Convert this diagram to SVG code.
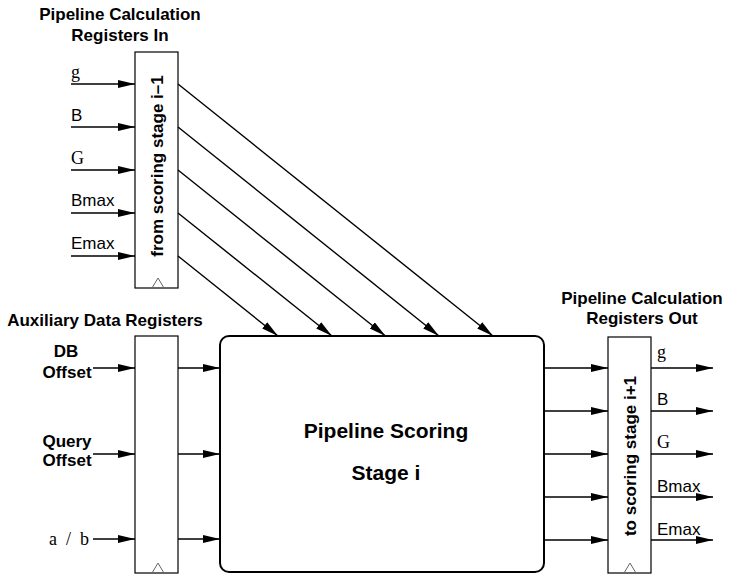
<svg xmlns="http://www.w3.org/2000/svg" width="729" height="582" viewBox="0 0 729 582">
<style>
.t{font-family:"Liberation Sans",Arial,sans-serif;font-weight:bold;font-size:17px;fill:#000}
.s{font-family:"Liberation Sans",Arial,sans-serif;font-size:17px;fill:#000}
.r{font-family:"Liberation Serif","Times New Roman",serif;font-size:18px;fill:#000}
.reg{fill:#fff;stroke:#000;stroke-width:1.2}
.clk{fill:none;stroke:#666;stroke-width:1}
.w{stroke:#000;stroke-width:1.4;fill:none;marker-end:url(#ah)}
</style>
<defs>
<marker id="ah" markerUnits="userSpaceOnUse" markerWidth="18" markerHeight="10" refX="17" refY="4" orient="auto">
<path d="M0,0 L17,4 L0,8 z" fill="#000"/>
</marker>
</defs>
<rect width="729" height="582" fill="#fff"/>

<g id="title-in">
<text class="t" x="120" y="20" text-anchor="middle">Pipeline Calculation</text>
<text class="t" x="120" y="41" text-anchor="middle">Registers In</text>
</g>
<g id="title-aux">
<text class="t" x="105" y="326" text-anchor="middle">Auxiliary Data Registers</text>
</g>
<g id="title-out">
<text class="t" x="642" y="304" text-anchor="middle">Pipeline Calculation</text>
<text class="t" x="642" y="324" text-anchor="middle">Registers Out</text>
</g>

<g id="reg-in">
<rect class="reg" x="135" y="52" width="43" height="236"/>
<path class="clk" d="M152,288 L158,278 L164,288"/>
<text class="t" transform="translate(163,166) rotate(-90)" text-anchor="middle">from scoring stage i–1</text>
</g>

<g id="reg-aux">
<rect class="reg" x="135" y="336" width="43" height="237"/>
<path class="clk" d="M152,573 L158,563 L164,573"/>
</g>

<g id="reg-out">
<rect class="reg" x="608" y="337" width="43" height="236"/>
<path class="clk" d="M624,573 L630,563 L636,573"/>
<text class="t" transform="translate(636,456) rotate(-90)" text-anchor="middle">to scoring stage i+1</text>
</g>

<g id="stage">
<rect x="220" y="336" width="324" height="236" rx="9" fill="#fff" stroke="#000" stroke-width="2"/>
<text class="t" x="386" y="438" text-anchor="middle" style="font-size:21px">Pipeline Scoring</text>
<text class="t" x="386" y="480" text-anchor="middle" style="font-size:21px">Stage i</text>
</g>

<g id="labels-in">
<text class="r" x="71" y="78">g</text>
<text class="s" x="71" y="121">B</text>
<text class="r" x="71" y="164">G</text>
<text class="s" x="71" y="206">Bmax</text>
<text class="s" x="71" y="249">Emax</text>
</g>
<g id="labels-aux">
<text class="t" x="66" y="357" text-anchor="middle">DB</text>
<text class="t" x="67" y="378" text-anchor="middle">Offset</text>
<text class="t" x="67" y="447" text-anchor="middle">Query</text>
<text class="t" x="67" y="466" text-anchor="middle">Offset</text>
<text class="r" x="49" y="545" xml:space="preserve">a  /  b</text>
</g>
<g id="labels-out">
<text class="r" x="657" y="358">g</text>
<text class="s" x="657" y="405">B</text>
<text class="r" x="657" y="448">G</text>
<text class="s" x="657" y="492">Bmax</text>
<text class="s" x="657" y="535">Emax</text>
</g>

<g id="connectors">
<path class="w" d="M71,84 H135"/>
<path class="w" d="M71,127 H135"/>
<path class="w" d="M71,170 H135"/>
<path class="w" d="M71,213 H135"/>
<path class="w" d="M71,256 H135"/>
<path class="w" d="M178,84 L493,336"/>
<path class="w" d="M178,127 L439,336"/>
<path class="w" d="M178,170 L385.5,336"/>
<path class="w" d="M178,213 L332,336"/>
<path class="w" d="M178,256 L278,336"/>
<path class="w" d="M93,368 H135"/>
<path class="w" d="M93,454 H135"/>
<path class="w" d="M93,539 H135"/>
<path class="w" d="M178,368 H220"/>
<path class="w" d="M178,454 H220"/>
<path class="w" d="M178,539 H220"/>
<path class="w" d="M544,368 H608"/>
<path class="w" d="M544,411 H608"/>
<path class="w" d="M544,454 H608"/>
<path class="w" d="M544,497 H608"/>
<path class="w" d="M544,540 H608"/>
<path class="w" d="M651,368 H713"/>
<path class="w" d="M651,411 H713"/>
<path class="w" d="M651,454 H713"/>
<path class="w" d="M651,497 H713"/>
<path class="w" d="M651,540 H713"/>
</g>
</svg>
